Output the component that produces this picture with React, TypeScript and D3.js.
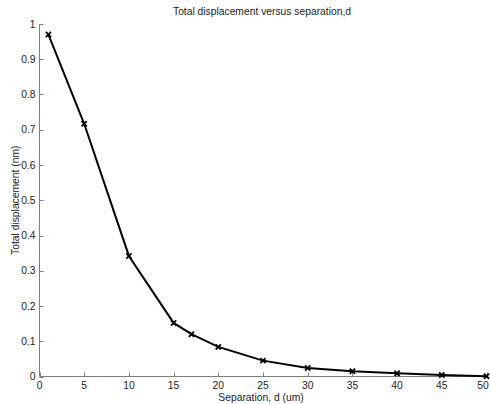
import React from "react";
import * as d3 from "d3";

const xValues = [1, 5, 10, 15, 17, 20, 25, 30, 35, 40, 45, 50];
const yValues = [0.97, 0.717, 0.342, 0.152, 0.12, 0.084, 0.045, 0.024, 0.015, 0.009, 0.004, 0.001];
const xTicks = [0, 5, 10, 15, 20, 25, 30, 35, 40, 45, 50];
const yTicks = [0, 0.1, 0.2, 0.3, 0.4, 0.5, 0.6, 0.7, 0.8, 0.9, 1];
const title = "Total displacement versus separation,d";
const xLabel = "Separation, d (um)";
const yLabel = "Total displacement (nm)";

export default function App() {
  const W = 490, H = 404;
  const left = 39.5, right = 486.5, top = 24, bottom = 376.5;
  const x = d3.scaleLinear().domain([0, 50]).range([left, right]);
  const y = d3.scaleLinear().domain([0, 1]).range([bottom, top]);
  const line = d3.line<number>().x((_, i) => x(xValues[i])).y((d) => y(d));
  const font = "'Liberation Sans', Arial, sans-serif";
  const axisColor = "#7f7f7f";
  const fs = 10.3;
  return (
    <svg width={W} height={H} style={{ position: "absolute", left: 0, top: 0, background: "#fff" }} fontFamily={font}>
      <rect width={W} height={H} fill="#fff" />
      <line x1={left} x2={right} y1={bottom} y2={bottom} stroke={axisColor} strokeWidth={1} />
      <line x1={left} x2={left} y1={top} y2={bottom} stroke={axisColor} strokeWidth={1} />
      {xTicks.map((t) => (
        <g key={"x" + t}>
          <line x1={Math.round(x(t)) + 0.5} x2={Math.round(x(t)) + 0.5} y1={bottom} y2={bottom - 4} stroke={axisColor} />
          <text x={Math.min(x(t), 483)} y={389} fontSize={fs} textAnchor="middle" fill="#222">{t}</text>
        </g>
      ))}
      {yTicks.map((t) => (
        <g key={"y" + t}>
          <line x1={left} x2={left + 4} y1={Math.round(y(t)) + 0.5} y2={Math.round(y(t)) + 0.5} stroke={axisColor} />
          <text x={35.5} y={y(t) + 3.6} fontSize={fs} textAnchor="end" fill="#222">{d3.format("")(t)}</text>
        </g>
      ))}
      <text x={262} y={15} fontSize={fs} textAnchor="middle" fill="#222">{title}</text>
      <text x={261} y={401} fontSize={fs} textAnchor="middle" fill="#222">{xLabel}</text>
      <text transform={`translate(18.5,${(top + bottom) / 2}) rotate(-90)`} fontSize={fs} textAnchor="middle" fill="#222">{yLabel}</text>
      <path d={line(yValues) || ""} fill="none" stroke="#000" strokeWidth={2} />
      {yValues.map((v, i) => {
        const cx = x(xValues[i]), cy = y(v), s = 2.6;
        return (
          <path key={"m" + i} d={`M${cx - s},${cy - s}L${cx + s},${cy + s}M${cx - s},${cy + s}L${cx + s},${cy - s}`} stroke="#000" strokeWidth={1.8} fill="none" />
        );
      })}
    </svg>
  );
}
